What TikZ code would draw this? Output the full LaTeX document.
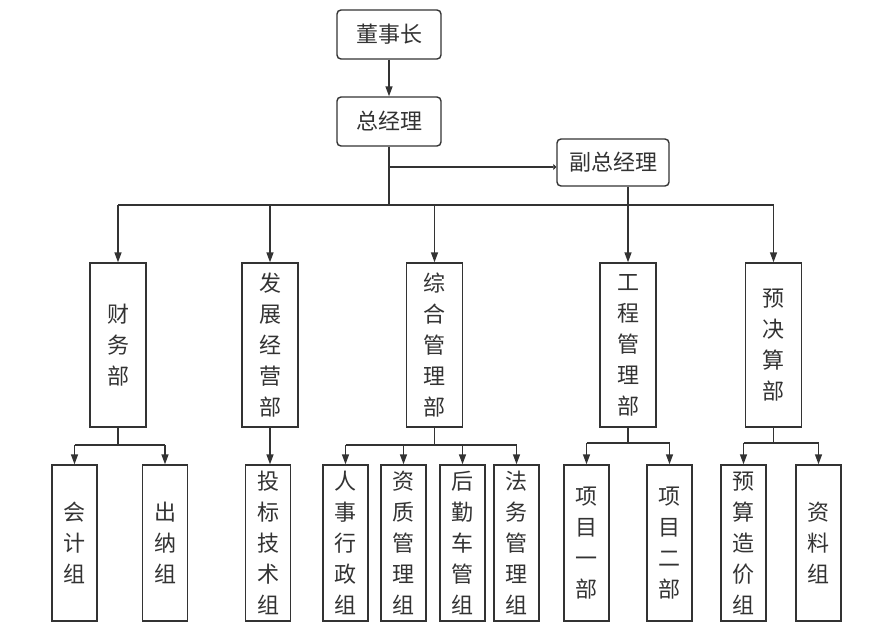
\documentclass[tikz,border=0pt]{standalone}
\usepackage{fontspec}
\newfontfamily\cjk{Noto Sans CJK SC}
\usetikzlibrary{arrows.meta}
\definecolor{lc}{HTML}{333333}
\definecolor{tc}{HTML}{333333}
\begin{document}
\begin{tikzpicture}[x=1pt,y=-1pt,
 line/.style={draw=lc, line width=1.4pt},
 arr/.style={line, -{Triangle[length=10pt,width=7pt]}},
 arrsmall/.style={line, -{Triangle[length=3pt,width=6pt]}},
 topbox/.style={draw=lc, line width=1.4pt, rounded corners=4pt, inner sep=0pt, font=\cjk\fontsize{22}{26}\selectfont, text=tc},
 vbox/.style={draw=lc, line width=1.4pt, inner sep=0pt, align=center, font=\cjk\fontsize{22}{31}\selectfont, text=tc},
 dept/.style={vbox, minimum width=56pt, minimum height=164pt},
 grp/.style={vbox, minimum width=45pt, minimum height=156pt},
]
\fill[white] (0,0) rectangle (880,642);
\useasboundingbox (0,0) rectangle (880,642);

\node[topbox, minimum width=104pt, minimum height=49pt] (dsz) at (389,34.5) {董事长};
\node[topbox, minimum width=104pt, minimum height=49pt] (zjl) at (389,121.5) {总经理};
\node[topbox, minimum width=112pt, minimum height=47pt] (fzjl) at (613,162.5) {副总经理};

\node[dept] (cw) at (118,345) {财\\务\\部};
\node[dept] (fz) at (270,345) {发\\展\\经\\营\\部};
\node[dept] (zh) at (434.5,345) {综\\合\\管\\理\\部};
\node[dept] (gc) at (628,345) {工\\程\\管\\理\\部};
\node[dept] (yj) at (773.5,345) {预\\决\\算\\部};

\node[grp] (kj) at (74.5,543) {会\\计\\组};
\node[grp] (cn) at (165,543) {出\\纳\\组};
\node[grp] (tb) at (268,543) {投\\标\\技\\术\\组};
\node[grp] (rs) at (345.5,543) {人\\事\\行\\政\\组};
\node[grp] (zz) at (403.5,543) {资\\质\\管\\理\\组};
\node[grp] (hq) at (462.5,543) {后\\勤\\车\\管\\组};
\node[grp] (fw) at (516.5,543) {法\\务\\管\\理\\组};
\node[grp] (xm1) at (586.5,543) {项\\目\\一\\部};
\node[grp] (xm2) at (669.5,543) {项\\目\\二\\部};
\node[grp] (ys) at (743.5,543) {预\\算\\造\\价\\组};
\node[grp] (zl) at (818.5,543) {资\\料\\组};

% top connectors
\draw[arr] (dsz) -- (zjl);
\coordinate (j0) at (389,205);
\coordinate (jf) at (389,167);
\draw[line] (zjl) -- (j0);
\draw[arrsmall] (jf) -- (jf -| fzjl.west);
\draw[line] (cw |- j0) -- (yj |- j0);
\draw[arr] (cw |- j0) -- (cw);
\draw[arr] (fz |- j0) -- (fz);
\draw[arr] (zh |- j0) -- (zh);
\draw[arr] (fzjl.south -| gc) -- (gc);
\draw[arr] (yj |- j0) -- (yj);

% bottom connectors
\coordinate (b1) at (118,445);
\draw[line] (cw) -- (b1);
\draw[line] (kj |- b1) -- (cn |- b1);
\draw[arr] (kj |- b1) -- (kj);
\draw[arr] (cn |- b1) -- (cn);

\draw[arr] (fz.south) -- (fz.south |- tb.north);

\coordinate (b3) at (434.5,445);
\draw[line] (zh) -- (b3);
\draw[line] (rs |- b3) -- (fw |- b3);
\draw[arr] (rs |- b3) -- (rs);
\draw[arr] (zz |- b3) -- (zz);
\draw[arr] (hq |- b3) -- (hq);
\draw[arr] (fw |- b3) -- (fw);

\coordinate (b4) at (628,443);
\draw[line] (gc) -- (b4);
\draw[line] (xm1 |- b4) -- (xm2 |- b4);
\draw[arr] (xm1 |- b4) -- (xm1);
\draw[arr] (xm2 |- b4) -- (xm2);

\coordinate (b5) at (773.5,443);
\draw[line] (yj) -- (b5);
\draw[line] (ys |- b5) -- (zl |- b5);
\draw[arr] (ys |- b5) -- (ys);
\draw[arr] (zl |- b5) -- (zl);
\end{tikzpicture}
\end{document}
